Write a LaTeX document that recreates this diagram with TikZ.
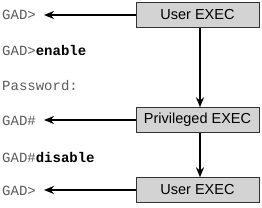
\documentclass[tikz,border=0pt]{standalone}
\usepackage{fontspec}
\setmainfont{Liberation Sans}
\setmonofont{Liberation Mono}
\usepackage{tikz}
\usetikzlibrary{arrows.meta,positioning}
\definecolor{modefill}{RGB}{211,211,211}
\definecolor{promptcolor}{RGB}{90,90,90}

\begin{document}
\begin{tikzpicture}[
    x=1pt, y=-1pt,
    mode/.style={rectangle, draw=black!80, fill=modefill, line width=0.9pt, minimum width=123pt, minimum height=24.5pt, inner sep=0pt, font=\fontsize{14.5}{16}\selectfont},
    prompt/.style={anchor=west, inner sep=0pt, text=promptcolor, font=\ttfamily\fontsize{14}{16}\selectfont},
    arrow/.style={-{Stealth[length=10pt, width=8pt]}, line width=2pt}
]
    \useasboundingbox (0,0) rectangle (262,207);

    % mode boxes
    \node[mode] (user1) at (197.5,15) {User EXEC};
    \node[mode] (priv) at (197.5,120) {Privileged EXEC};
    \node[mode] (user2) at (197.5,190) {User EXEC};

    % prompts
    \node[prompt] (p1) at (2,15) {GAD>};
    \node[prompt] (p2) at (2,50) {GAD>\textbf{\color{black}enable}};
    \node[prompt] (p3) at (2,86) {Password:};
    \node[prompt] (p4) at (2,121) {GAD\#};
    \node[prompt] (p5) at (2,157) {GAD\#\textbf{\color{black}disable}};
    \node[prompt] (p6) at (2,191) {GAD>};

    % arrow ends
    \coordinate (t1) at (44,15);
    \coordinate (t2) at (44,120);
    \coordinate (t3) at (44,190);

    \draw[arrow] (user1.west) -- (t1);
    \draw[arrow] (priv.west) -- (t2);
    \draw[arrow] (user2.west) -- (t3);
    \draw[arrow] (user1.south -| 200,0) -- (priv.north -| 200,0);
    \draw[arrow] (priv.south -| 200,0) -- (user2.north -| 200,0);
\end{tikzpicture}
\end{document}
